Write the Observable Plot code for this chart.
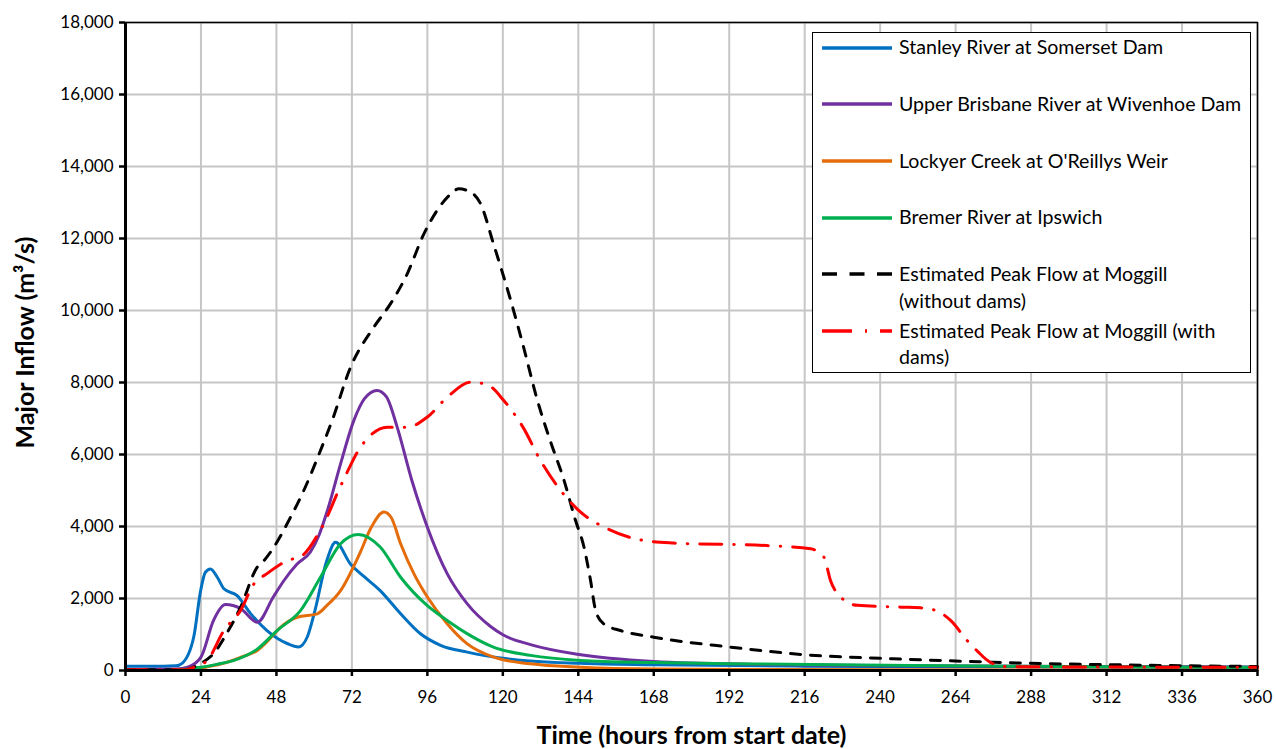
<!DOCTYPE html>
<html><head><meta charset="utf-8">
<script src="https://cdn.jsdelivr.net/npm/d3@7"></script>
<script src="https://cdn.jsdelivr.net/npm/@observablehq/plot@0.6"></script>
<style>
body{margin:0;background:#fff;font-family:Lato,sans-serif;}
#wrap{position:relative;width:1276px;height:749px;}
#legend{position:absolute;left:812px;top:32px;width:437px;height:339px;border:1.5px solid #000;background:#fff;}
.sw{position:absolute;left:9px;}
.lt{position:absolute;left:86px;font-size:19.6px;line-height:26.7px;white-space:nowrap;color:#000;}
</style></head><body><div id="wrap"></div>
<script>
// ---- data ----
const xTicks = [0,24,48,72,96,120,144,168,192,216,240,264,288,312,336,360];
const yTicks = [0,2000,4000,6000,8000,10000,12000,14000,16000,18000];

const seriesNames = [
  "Stanley River at Somerset Dam",
  "Upper Brisbane River at Wivenhoe Dam",
  "Lockyer Creek at O'Reillys Weir",
  "Bremer River at Ipswich",
  "Estimated Peak Flow at Moggill (without dams)",
  "Estimated Peak Flow at Moggill (with dams)"
];

const stanleyHours = [0,12,16,18,21.7,23.9,25.4,27,29.2,31.3,35.5,39.8,45,51.4,55,57.8,60,64,66.8,71.6,76,81,87.5,93.8,100.2,108.7,121.4,144.7,168,216,288,360];
const stanleyFlow  = [120,120,130,200,930,2220,2730,2820,2590,2270,2080,1580,1110,750,650,930,1580,3050,3560,2950,2600,2220,1575,1020,700,510,325,200,160,120,100,80];

const brisbaneHours = [0,16,20,24,28,31.8,36.6,41.9,47,50.4,54.5,58.8,61.5,64.2,68.4,72.6,76,80,83,86.4,91,96,102.3,108.7,116,120.3,128.8,143.7,168,200,250,300,360];
const brisbaneFlow  = [30,40,100,370,1390,1830,1720,1340,2040,2500,2950,3290,3750,4440,5740,6940,7550,7780,7600,6760,5300,3980,2690,1850,1230,980,720,450,250,170,130,110,100];

const lockyerHours = [0,18,22,26,32.3,37,41.9,45,49.3,54.6,61,64,68.4,74.7,78,82.2,84.5,87.5,91.7,96,102.3,108.7,117.1,128.8,144.7,168,240,360];
const lockyerFlow  = [0,0,20,100,230,380,555,800,1200,1480,1575,1800,2220,3290,3950,4400,4250,3520,2690,2040,1300,740,370,185,90,40,20,10];

const bremerHours = [0,13,18,24,29,34.5,42,48.2,55.7,62,68.4,74,81,87.5,96,102.3,109.7,117,128.8,144.7,168,200,250,300,360];
const bremerFlow  = [0,0,30,90,170,280,600,1110,1670,2590,3520,3780,3430,2590,1800,1390,970,650,420,280,220,180,140,110,90];

const noDamHours = [0,18.5,24,28,32,36.6,41.9,44,47.2,52.5,56.7,62,65.7,71.6,79,84.3,89.6,94.9,99.1,103,106,109.5,112.9,117,122.5,126.6,131,135,139.4,143,145.8,147.9,149.5,152,157.4,168,192.4,215.7,244,268.8,287.8,314,360];
const noDamFlow  = [20,20,200,470,1000,1760,2870,3050,3430,4260,5000,6110,6940,8430,9540,10190,11020,12130,12780,13200,13380,13300,12970,11860,10280,8980,7500,6400,5300,4200,3430,2500,1670,1300,1110,925,650,440,325,250,200,160,110];

const withDamHours = [0,18.5,22,26,31.3,36.6,40.8,45,51.4,56.2,61,63.6,67.3,71,73.7,77.9,83.2,89.6,96,102.3,109.7,115,120.3,126.4,132,138.4,144.2,153.2,164.9,174.4,204,217.9,222.1,224.2,227.4,232.7,246.5,252.9,257.6,262.4,267.7,270.9,275,280.4,300,360];
const withDamFlow  = [20,20,100,280,1110,1670,2400,2690,3050,3190,3750,4170,4910,5600,6060,6530,6760,6760,7040,7590,8010,7940,7500,6760,5830,5000,4440,3940,3610,3540,3470,3380,3150,2500,2040,1810,1760,1740,1670,1390,830,540,230,110,100,90];

const seriesColors = ["#0070C0","#7030A0","#E46C0A","#00B050","#000000","#FF0000"];
const seriesDash   = [null,null,null,null,"10,10","22,12,0.5,12"];
const legendDash   = [null,null,null,null,"15,12.5","30,13,2,13"];
const legendLines  = [
  ["Stanley River at Somerset Dam"],
  ["Upper Brisbane River at Wivenhoe Dam"],
  ["Lockyer Creek at O'Reillys Weir"],
  ["Bremer River at Ipswich"],
  ["Estimated Peak Flow at Moggill","(without dams)"],
  ["Estimated Peak Flow at Moggill (with","dams)"]
];

// ---- build table ----
const hoursList = [stanleyHours, brisbaneHours, lockyerHours, bremerHours, noDamHours, withDamHours];
const flowList  = [stanleyFlow, brisbaneFlow, lockyerFlow, bremerFlow, noDamFlow, withDamFlow];
const rows = [];
seriesNames.forEach((s, i) => hoursList[i].forEach((h, j) => rows.push({series: s, hour: h, flow: flowList[i][j]})));

const lineMarks = seriesNames.map((s, i) => Plot.line(rows.filter(r => r.series === s), {
  x: "hour", y: "flow", stroke: seriesColors[i], strokeWidth: 3, curve: "monotone-x",
  strokeDasharray: seriesDash[i] || undefined, strokeLinecap: "round"
}));

const chart = Plot.plot({
  width: 1276, height: 749,
  marginLeft: 125, marginRight: 19, marginTop: 22, marginBottom: 79,
  style: {fontFamily: "Lato, sans-serif", color: "#000", background: "#fff"},
  x: {domain: [0, 360]},
  y: {domain: [0, 18000]},
  marks: [
    Plot.gridX(xTicks, {stroke: "#c6c6c6", strokeOpacity: 1, strokeWidth: 2}),
    Plot.gridY(yTicks, {stroke: "#c6c6c6", strokeOpacity: 1, strokeWidth: 2}),
    ...lineMarks,
    Plot.frame({stroke: "#000", strokeWidth: 1.5}),
    Plot.ruleX([0], {stroke: "#000", strokeWidth: 3}),
    Plot.ruleY([0], {stroke: "#000", strokeWidth: 3}),
    Plot.axisX(xTicks, {tickSize: 6, tickPadding: 14, fontSize: 17, label: null, strokeWidth: 2.5}),
    Plot.axisY(yTicks, {tickSize: 6, tickPadding: 6, fontSize: 17, label: null, tickFormat: d3.format(","), strokeWidth: 2.5}),
    Plot.text(["Time (hours from start date)"], {frameAnchor: "bottom", dy: 73, fontSize: 25, fontWeight: "bold"}),
    Plot.text(["Major Inflow (m³/s)"], {frameAnchor: "left", textAnchor: "middle", dx: -100, dy: -4, rotate: -90, fontSize: 25, fontWeight: "bold"})
  ]
});
const wrap = document.getElementById("wrap");
wrap.appendChild(chart);

// ---- legend overlay ----
const legend = document.createElement("div");
legend.id = "legend";
const lineYs = [14.7, 71.3, 128, 184.7, 241.3, 298];
legendLines.forEach((lines, i) => {
  const sw = document.createElementNS("http://www.w3.org/2000/svg", "svg");
  sw.setAttribute("width", 72); sw.setAttribute("height", 10);
  sw.setAttribute("class", "sw");
  sw.style.top = (lineYs[i] - 5) + "px";
  const ln = document.createElementNS("http://www.w3.org/2000/svg", "line");
  ln.setAttribute("x1", 0); ln.setAttribute("x2", 70); ln.setAttribute("y1", 5); ln.setAttribute("y2", 5);
  ln.setAttribute("stroke", seriesColors[i]); ln.setAttribute("stroke-width", 3.5);
  if (legendDash[i]) ln.setAttribute("stroke-dasharray", legendDash[i]);
  sw.appendChild(ln);
  legend.appendChild(sw);
  const t = document.createElement("div");
  t.className = "lt";
  t.style.top = (lineYs[i] - 13.35) + "px";
  lines.forEach((l, k) => { if (k) t.appendChild(document.createElement("br")); t.appendChild(document.createTextNode(l)); });
  legend.appendChild(t);
});
wrap.appendChild(legend);
</script></body></html>
